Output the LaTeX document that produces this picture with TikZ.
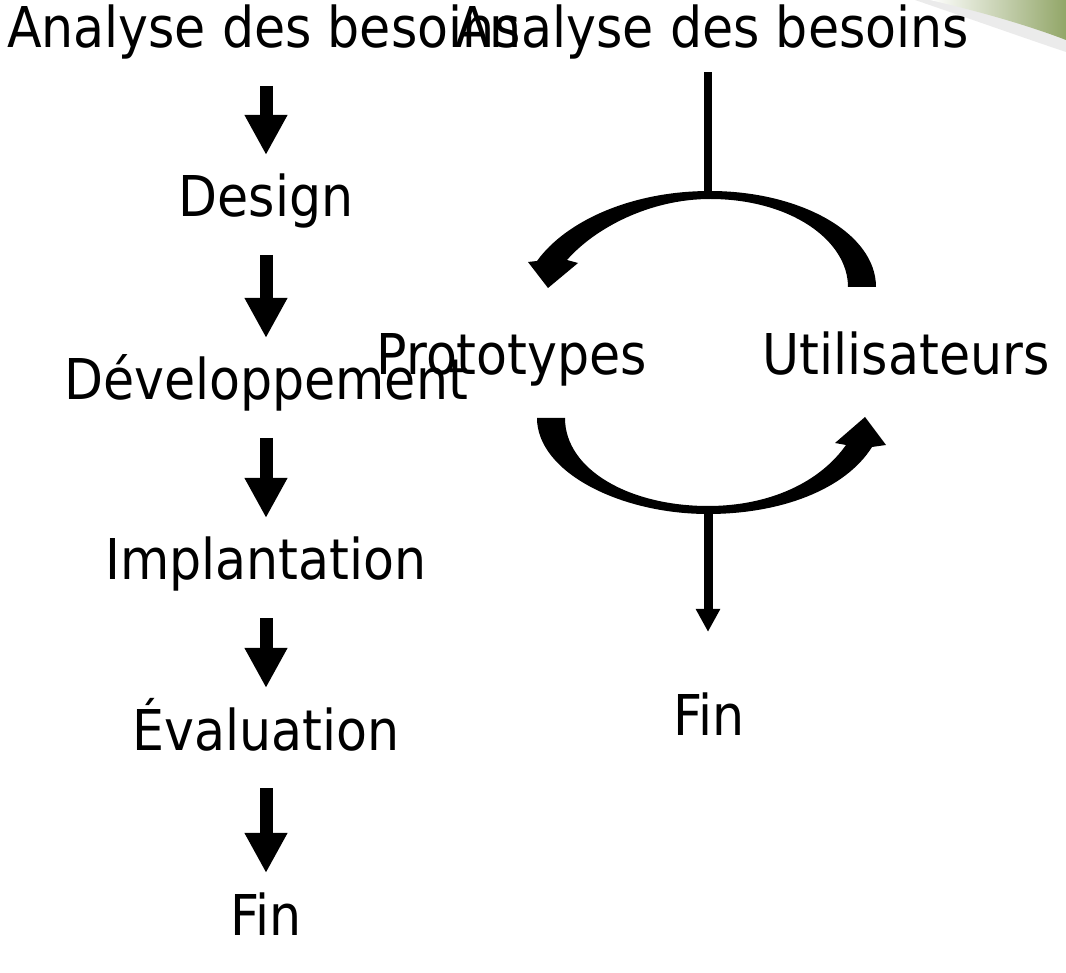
\documentclass[tikz,border=0pt]{standalone}
\usepackage{fontspec}
\setmainfont{DejaVu Sans Condensed}
\usetikzlibrary{arrows.meta}

\definecolor{swoosh}{RGB}{146,166,104}

\tikzset{
  lbl/.style={font=\fontsize{32}{38}\selectfont, inner sep=0pt, anchor=base},
  downarrow/.style={line width=2.6mm, -{Triangle[width=8mm,length=8mm]},
    shorten <=7.6mm, shorten >=12.4mm},
  stem/.style={line width=1.6mm},
  stemarrow/.style={line width=1.8mm, -{Triangle[width=4.6mm,length=4.6mm]}},
}

\begin{document}
\begin{tikzpicture}[x=0.2mm, y=-0.2mm]
\useasboundingbox (0,0) rectangle (1066,973);
% corner swoosh
\fill[black!8] (915,0) .. controls (985,24) and (1030,40) .. (1066,52) -- (1066,0) -- cycle;
\shade[left color=white, right color=swoosh] (930,0) .. controls (990,14) and (1035,28) .. (1066,40) -- (1066,0) -- cycle;

% classic cycle
\node[lbl] (analyse1) at (264,48) {Analyse des besoins};
\node[lbl] (design) at (266,217) {Design};
\node[lbl] (devel) at (266,400) {Développement};
\node[lbl] (implant) at (266,580) {Implantation};
\node[lbl] (evaluation) at (266,750) {Évaluation};
\node[lbl] (fin1) at (266,935) {Fin};

\draw[downarrow] (analyse1.base -| design.base) -- (design.base);
\draw[downarrow] (design.base) -- (devel.base);
\draw[downarrow] (devel.base) -- (implant.base);
\draw[downarrow] (implant.base) -- (evaluation.base);
\draw[downarrow] (evaluation.base) -- (fin1.base);

% iterative cycle
\node[lbl] (analyse2) at (712,48) {Analyse des besoins};
\node[lbl] (proto) at (512,375) {Prototypes};
\node[lbl] (users) at (906,375) {Utilisateurs};
\node[lbl] (fin2) at (709,735) {Fin};

\coordinate (cycletop) at (708,195);
\coordinate (cyclebot) at (708,510);
\draw[stem, shorten <=2.4mm] (cycletop |- analyse2.south) -- (cycletop);
\draw[stemarrow, shorten >=12mm] (cyclebot) -- (cyclebot |- fin2.north);

% curved arrow: users -> prototypes
\fill (876,287) .. controls (876,233) and (800,191) .. (710,191)
  .. controls (630,191) and (565,222) .. (537,261)
  -- (528,262) -- (548,288) -- (578,263) -- (567,260)
  .. controls (595,228) and (650,199) .. (710,199)
  .. controls (790,199) and (848,240) .. (848,287) -- cycle;
% curved arrow: prototypes -> users
\fill (537,418) .. controls (537,472) and (620,514) .. (708,514)
  .. controls (780,514) and (845,490) .. (872,447)
  -- (886,445) -- (865,417) -- (835,443) -- (846,445)
  .. controls (820,482) and (770,506) .. (708,506)
  .. controls (630,506) and (565,470) .. (565,418) -- cycle;
\end{tikzpicture}
\end{document}
